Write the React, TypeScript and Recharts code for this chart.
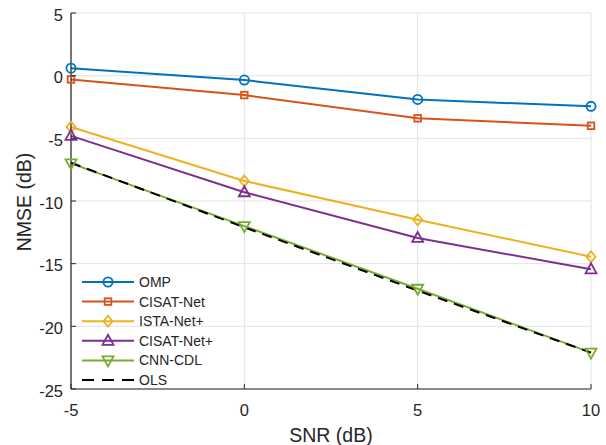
import React from 'react';
import { LineChart, Line, XAxis, YAxis, CartesianGrid, Legend } from 'recharts';

const snr = [-5, 0, 5, 10];
const omp = [0.6, -0.35, -1.9, -2.45];
const cisatNet = [-0.3, -1.55, -3.4, -4.0];
const istaNetPlus = [-4.1, -8.4, -11.5, -14.45];
const cisatNetPlus = [-4.8, -9.3, -12.95, -15.45];
const cnnCdl = [-7.0, -12.0, -17.0, -22.1];
const ols = [-6.95, -12.1, -17.15, -22.1];

const xTicks = [-5, 0, 5, 10];
const yTicks = [5, 0, -5, -10, -15, -20, -25];

const FONT = '"Liberation Sans", Arial, Helvetica, sans-serif';
const AXIS = '#262626';

type Shape = 'circle' | 'square' | 'diamond' | 'triUp' | 'triDown' | 'none';

const series: { key: string; name: string; color: string; shape: Shape; dash?: string }[] = [
  { key: 'omp', name: 'OMP', color: '#0072BD', shape: 'circle' },
  { key: 'cisatNet', name: 'CISAT-Net', color: '#D95319', shape: 'square' },
  { key: 'istaNetPlus', name: 'ISTA-Net+', color: '#EDB120', shape: 'diamond' },
  { key: 'cisatNetPlus', name: 'CISAT-Net+', color: '#7E2F8E', shape: 'triUp' },
  { key: 'cnnCdl', name: 'CNN-CDL', color: '#77AC30', shape: 'triDown' },
  { key: 'ols', name: 'OLS', color: '#000000', shape: 'none', dash: '10 7' },
];

const data = snr.map((s, i) => ({
  snr: s,
  omp: omp[i],
  cisatNet: cisatNet[i],
  istaNetPlus: istaNetPlus[i],
  cisatNetPlus: cisatNetPlus[i],
  cnnCdl: cnnCdl[i],
  ols: ols[i],
}));

function marker(shape: Shape, cx: number, cy: number, color: string, k?: string | number) {
  const common = { fill: 'none', stroke: color, strokeWidth: 1.8 };
  switch (shape) {
    case 'circle':
      return <circle key={k} cx={cx} cy={cy} r={4.6} {...common} />;
    case 'square':
      return <rect key={k} x={cx - 3.3} y={cy - 3.3} width={6.6} height={6.6} {...common} />;
    case 'diamond':
      return <polygon key={k} points={`${cx},${cy - 5.5} ${cx + 4.5},${cy} ${cx},${cy + 5.5} ${cx - 4.5},${cy}`} {...common} />;
    case 'triUp':
      return <polygon key={k} points={`${cx},${cy - 6} ${cx + 5.5},${cy + 4} ${cx - 5.5},${cy + 4}`} {...common} />;
    case 'triDown':
      return <polygon key={k} points={`${cx},${cy + 6} ${cx + 5.5},${cy - 4} ${cx - 5.5},${cy - 4}`} {...common} />;
    default:
      return <g key={k} />;
  }
}

const BottomTick = (props: any) => {
  const { x, y, payload } = props;
  return (
    <g>
      <line x1={x} y1={y} x2={x} y2={y - 5} stroke={AXIS} strokeWidth={1} />
      <text x={x} y={y + 27} textAnchor="middle" fill={AXIS} fontSize={16.5} fontFamily={FONT}>{payload.value}</text>
    </g>
  );
};

const TopTick = (props: any) => {
  const { x, y } = props;
  return <line x1={x} y1={y} x2={x} y2={y + 5} stroke={AXIS} strokeWidth={1} />;
};

const LeftTick = (props: any) => {
  const { x, y, payload } = props;
  return (
    <g>
      <line x1={x} y1={y} x2={x + 5} y2={y} stroke={AXIS} strokeWidth={1} />
      <text x={x - 8} y={y + 7.5} textAnchor="end" fill={AXIS} fontSize={16.5} fontFamily={FONT}>{payload.value}</text>
    </g>
  );
};

const RightTick = (props: any) => {
  const { x, y } = props;
  return <line x1={x} y1={y} x2={x - 5} y2={y} stroke={AXIS} strokeWidth={1} />;
};

const LegendBox = () => (
  <svg width={150} height={120} style={{ display: 'block', overflow: 'visible' }}>
    {series.map((s, i) => {
      const y = 12 + i * 19.6;
      return (
        <g key={s.key}>
          <line x1={4} y1={y} x2={56} y2={y} stroke={s.color} strokeWidth={2} strokeDasharray={s.dash ? '12 8' : undefined} />
          {marker(s.shape, 30, y, s.color)}
          <text x={61} y={y + 5} fontSize={14} fontFamily={FONT} fill={AXIS}>{s.name}</text>
        </g>
      );
    })}
  </svg>
);

export default function App() {
  return (
    <div style={{ position: 'absolute', left: 0, top: 0, width: 606, height: 445, background: '#fff' }}>
      <LineChart width={606} height={445} data={data} margin={{ top: 13, right: 15, left: 0, bottom: 0 }}>
        <CartesianGrid stroke="#e3e3e3" strokeWidth={1} vertical horizontal />
        <XAxis
          dataKey="snr"
          type="number"
          domain={[-5, 10]}
          ticks={xTicks}
          height={56}
          tickSize={0}
          tickMargin={0}
          tickLine={false}
          tick={BottomTick}
          axisLine={{ stroke: AXIS, strokeWidth: 1.2 }}
          label={{
            content: () => (
              <text x={331} y={442} textAnchor="middle" fill={AXIS} fontSize={19.5} fontFamily={FONT}>SNR (dB)</text>
            ),
          }}
        />
        <XAxis
          xAxisId="top"
          orientation="top"
          dataKey="snr"
          type="number"
          domain={[-5, 10]}
          ticks={xTicks}
          height={0}
          tickSize={0}
          tickMargin={0}
          tickLine={false}
          tick={TopTick}
          axisLine={{ stroke: AXIS, strokeWidth: 1.2 }}
        />
        <YAxis
          type="number"
          domain={[-25, 5]}
          ticks={yTicks}
          width={71}
          tickSize={0}
          tickMargin={0}
          tickLine={false}
          tick={LeftTick}
          axisLine={{ stroke: AXIS, strokeWidth: 1.2 }}
          label={{
            content: () => (
              <text x={0} y={0} transform="translate(31,202) rotate(-90)" textAnchor="middle" fill={AXIS} fontSize={19.5} fontFamily={FONT}>NMSE (dB)</text>
            ),
          }}
        />
        <YAxis
          yAxisId="right"
          orientation="right"
          type="number"
          domain={[-25, 5]}
          ticks={yTicks}
          width={0}
          tickSize={0}
          tickMargin={0}
          tickLine={false}
          tick={RightTick}
          axisLine={{ stroke: AXIS, strokeWidth: 1.2 }}
        />
        {series.map((s) => (
          <Line
            key={s.key}
            dataKey={s.key}
            name={s.name}
            type="linear"
            stroke={s.color}
            strokeWidth={2}
            strokeDasharray={s.dash}
            isAnimationActive={false}
            dot={(p: any) => marker(s.shape, p.cx, p.cy, s.color, `${s.key}-${p.index}`)}
            activeDot={false}
          />
        ))}
        <Legend
          layout="vertical"
          align="center"
          verticalAlign="middle"
          wrapperStyle={{ position: 'absolute', left: 78, top: 270, width: 150, height: 120 }}
          content={() => <LegendBox />}
        />
      </LineChart>
    </div>
  );
}
